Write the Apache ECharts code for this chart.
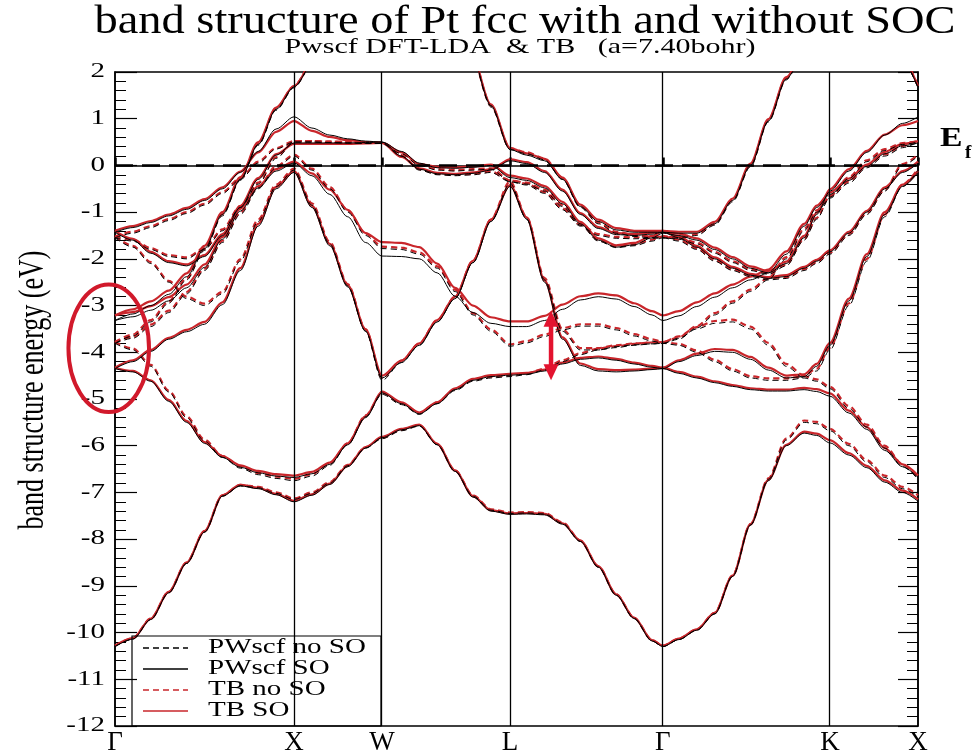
<!DOCTYPE html>
<html>
<head>
<meta charset="utf-8">
<script src="https://cdn.jsdelivr.net/npm/echarts@6/dist/echarts.min.js"></script>
<style>
  html, body { margin: 0; padding: 0; background: #fff; }
  #chart { width: 975px; height: 756px; }
</style>
</head>
<body>
<div id="chart"></div>
<script>
// k-path: high-symmetry points and their positions along the path
const kPath = [0, 1.0, 1.492, 2.207, 3.061, 3.994, 4.486];
const kLabels = ['Γ', 'X', 'W', 'L', 'Γ', 'K', 'X'];

// energy tick labels (eV)
const eTicks = [2, 1, 0, -1, -2, -3, -4, -5, -6, -7, -8, -9, -10, -11, -12];

// legend entries, in drawing order of the box
const legendNames = ['PWscf no SO', 'PWscf SO', 'TB no SO', 'TB SO'];

// sampling positions along the path (Γ-X | X-W | W-L | L-Γ | Γ-K | K-X)
const kGrid = [
  0, 0.1, 0.2, 0.3, 0.4, 0.5, 0.6, 0.7, 0.8, 0.9, 1.0,
  1.1, 1.2, 1.3, 1.4, 1.492,
  1.6, 1.7, 1.8, 1.9, 2.0, 2.1, 2.207,
  2.3, 2.4, 2.5, 2.6, 2.7, 2.8, 2.9, 3.0, 3.061,
  3.15, 3.25, 3.35, 3.45, 3.55, 3.65, 3.75, 3.85, 3.92, 3.994,
  4.1, 4.2, 4.3, 4.4, 4.486
];

// ---- PWscf, with spin-orbit (eV) ----
const pwSO = [
  [-10.30,-10.14,-9.72,-9.15,-8.52,-7.85,-7.08,-6.86,-6.92,-7.05,-7.20,
   -7.06,-6.83,-6.45,-6.05,-5.83,
   -5.66,-5.57,-5.98,-6.55,-7.10,-7.40,-7.47,
   -7.46,-7.48,-7.68,-8.05,-8.60,-9.20,-9.70,-10.18,-10.30,
   -10.15,-9.95,-9.60,-8.80,-7.70,-6.75,-6.00,-5.73,-5.78,-5.94,
   -6.20,-6.47,-6.78,-7.00,-7.19],
  [-4.35,-4.42,-4.62,-5.05,-5.50,-5.95,-6.25,-6.46,-6.58,-6.65,-6.68,
   -6.60,-6.40,-5.98,-5.40,-4.87,
   -5.10,-5.32,-5.10,-4.80,-4.60,-4.52,-4.49,
   -4.47,-4.40,-4.25,-4.15,-4.12,-4.17,-4.25,-4.32,-4.35,
   -4.45,-4.55,-4.65,-4.73,-4.80,-4.83,-4.83,-4.80,-4.84,-4.94,
   -5.30,-5.65,-6.10,-6.45,-6.68],
  [-4.35,-4.20,-3.98,-3.72,-3.56,-3.40,-2.98,-2.25,-1.30,-0.50,-0.15,
   -0.90,-1.72,-2.60,-3.55,-4.55,
   -4.22,-3.85,-3.35,-2.85,-2.08,-1.20,-0.45,
   -1.15,-2.50,-3.72,-4.28,-4.40,-4.42,-4.40,-4.37,-4.35,
   -4.20,-4.07,-3.98,-4.00,-4.15,-4.38,-4.55,-4.52,-4.30,-3.85,
   -2.90,-1.95,-1.05,-0.45,-0.15],
  [-3.32,-3.18,-3.00,-2.76,-2.38,-1.78,-1.05,-0.30,0.45,1.20,1.68,
   2.30,null,null,null,null,
   null,null,null,null,2.55,1.28,0.34,
   0.22,0.10,-0.30,-0.88,-1.20,-1.38,-1.43,-1.43,-1.43,
   -1.45,-1.45,-1.25,-0.75,0.00,0.95,1.85,2.60,null,null,
   null,null,null,2.40,1.68],
  [-1.43,-1.33,-1.22,-1.08,-0.94,-0.75,-0.50,-0.15,0.30,0.78,1.04,
   0.80,0.65,0.57,0.52,0.50,
   0.30,0.05,-0.05,-0.06,-0.04,0.00,-0.26,
   -0.32,-0.48,-0.82,-1.25,-1.60,-1.75,-1.70,-1.55,-1.45,
   -1.50,-1.60,-1.80,-2.00,-2.20,-2.30,-2.10,-1.55,-1.05,-0.55,
   -0.12,0.28,0.65,0.90,1.04],
  [-1.43,-1.60,-1.88,-2.08,-2.15,-1.95,-1.50,-0.90,-0.30,0.22,0.48,
   0.48,0.48,0.48,0.49,0.50,
   0.20,-0.08,-0.18,-0.20,-0.17,-0.10,0.10,
   0.04,-0.15,-0.55,-1.05,-1.35,-1.48,-1.50,-1.47,-1.43,
   -1.55,-1.75,-2.00,-2.20,-2.35,-2.42,-2.38,-2.20,-2.05,-1.85,
   -1.45,-1.00,-0.50,-0.15,0.05],
  [-3.32,-3.24,-3.10,-2.90,-2.62,-2.18,-1.58,-0.98,-0.48,-0.12,0.05,
   -0.22,-0.62,-1.10,-1.65,-1.94,
   -1.95,-2.00,-2.30,-2.80,-3.15,-3.38,-3.45,
   -3.45,-3.32,-3.08,-2.88,-2.81,-2.86,-3.02,-3.20,-3.32,
   -3.22,-3.02,-2.82,-2.62,-2.45,-2.30,-1.90,-1.30,-0.90,-0.62,
   -0.32,-0.02,0.25,0.42,0.48]
];

// ---- tight-binding, with spin-orbit (eV) ----
const tbSO = [
  [-10.28,-10.12,-9.70,-9.13,-8.50,-7.83,-7.06,-6.84,-6.90,-7.03,-7.18,
   -7.04,-6.81,-6.43,-6.03,-5.81,
   -5.64,-5.55,-5.96,-6.53,-7.08,-7.38,-7.45,
   -7.44,-7.46,-7.66,-8.03,-8.58,-9.18,-9.68,-10.16,-10.28,
   -10.13,-9.93,-9.58,-8.78,-7.68,-6.73,-5.98,-5.70,-5.74,-5.88,
   -6.16,-6.43,-6.74,-6.96,-7.15],
  [-4.33,-4.40,-4.60,-5.02,-5.47,-5.92,-6.22,-6.42,-6.54,-6.61,-6.64,
   -6.56,-6.36,-5.95,-5.37,-4.84,
   -5.07,-5.29,-5.07,-4.77,-4.57,-4.49,-4.46,
   -4.44,-4.37,-4.22,-4.12,-4.09,-4.14,-4.22,-4.29,-4.33,
   -4.42,-4.52,-4.62,-4.70,-4.77,-4.80,-4.80,-4.76,-4.79,-4.88,
   -5.25,-5.60,-6.05,-6.40,-6.64],
  [-4.33,-4.17,-3.95,-3.69,-3.52,-3.35,-2.93,-2.20,-1.25,-0.46,-0.12,
   -0.86,-1.68,-2.56,-3.51,-4.50,
   -4.18,-3.81,-3.31,-2.81,-2.04,-1.16,-0.42,
   -1.11,-2.46,-3.68,-4.24,-4.36,-4.38,-4.37,-4.35,-4.33,
   -4.17,-4.03,-3.93,-3.95,-4.10,-4.33,-4.50,-4.47,-4.25,-3.80,
   -2.85,-1.90,-1.00,-0.41,-0.12],
  [-3.21,-3.08,-2.91,-2.68,-2.31,-1.72,-1.00,-0.25,0.50,1.24,1.70,
   2.32,null,null,null,null,
   null,null,null,null,2.58,1.31,0.37,
   0.26,0.14,-0.26,-0.84,-1.16,-1.34,-1.40,-1.40,-1.40,
   -1.42,-1.42,-1.21,-0.71,0.04,0.99,1.89,2.64,null,null,
   null,null,null,2.44,1.70],
  [-1.40,-1.30,-1.19,-1.05,-0.91,-0.72,-0.47,-0.13,0.28,0.72,0.95,
   0.74,0.61,0.54,0.50,0.48,
   0.28,0.03,-0.03,-0.04,-0.02,0.02,-0.22,
   -0.28,-0.44,-0.78,-1.21,-1.56,-1.71,-1.66,-1.51,-1.41,
   -1.46,-1.56,-1.76,-1.96,-2.16,-2.26,-2.06,-1.51,-1.01,-0.51,
   -0.08,0.31,0.66,0.86,0.95],
  [-1.40,-1.57,-1.85,-2.05,-2.12,-1.92,-1.47,-0.87,-0.27,0.24,0.46,
   0.46,0.46,0.46,0.47,0.48,
   0.18,-0.06,-0.16,-0.18,-0.15,-0.08,0.13,
   0.07,-0.12,-0.52,-1.02,-1.32,-1.45,-1.47,-1.44,-1.40,
   -1.52,-1.72,-1.97,-2.17,-2.32,-2.39,-2.35,-2.17,-2.02,-1.82,
   -1.42,-0.97,-0.47,-0.12,0.08],
  [-3.21,-3.14,-3.01,-2.82,-2.55,-2.12,-1.53,-0.93,-0.44,-0.08,0.08,
   -0.17,-0.52,-0.95,-1.45,-1.64,
   -1.66,-1.75,-2.10,-2.62,-3.00,-3.25,-3.34,
   -3.34,-3.22,-2.98,-2.80,-2.74,-2.78,-2.95,-3.12,-3.21,
   -3.12,-2.93,-2.74,-2.55,-2.38,-2.23,-1.84,-1.25,-0.86,-0.58,
   -0.28,0.02,0.29,0.46,0.52]
];

// ---- PWscf, without spin-orbit (eV) ----
const pwNoSO = [
  [-10.30,-10.14,-9.72,-9.15,-8.52,-7.85,-7.08,-6.86,-6.90,-7.02,-7.15,
   -7.02,-6.80,-6.43,-6.05,-5.85,
   -5.68,-5.58,-5.98,-6.55,-7.08,-7.38,-7.45,
   -7.44,-7.46,-7.66,-8.05,-8.60,-9.20,-9.70,-10.18,-10.30,
   -10.15,-9.95,-9.60,-8.80,-7.70,-6.72,-5.88,-5.50,-5.53,-5.68,
   -6.00,-6.35,-6.68,-6.92,-7.10],
  [-3.81,-3.95,-4.30,-4.85,-5.40,-5.90,-6.25,-6.48,-6.62,-6.70,-6.75,
   -6.65,-6.42,-5.98,-5.38,-4.90,
   -5.12,-5.33,-5.10,-4.82,-4.62,-4.55,-4.52,
   -4.48,-4.38,-4.20,-4.05,-3.95,-3.90,-3.85,-3.82,-3.81,
   -3.85,-4.00,-4.20,-4.40,-4.55,-4.60,-4.60,-4.55,-4.62,-4.78,
   -5.20,-5.60,-6.05,-6.45,-6.72],
  [-1.55,-1.75,-2.10,-2.50,-2.85,-3.00,-2.75,-2.05,-1.20,-0.45,-0.10,
   -0.85,-1.68,-2.58,-3.55,-4.60,
   -4.22,-3.85,-3.35,-2.85,-2.08,-1.20,-0.38,
   -1.15,-2.45,-3.55,-3.95,-3.95,-3.88,-3.84,-3.82,-3.81,
   -3.70,-3.50,-3.38,-3.35,-3.50,-3.85,-4.30,-4.55,-4.40,-3.95,
   -3.00,-2.05,-1.10,-0.45,-0.10],
  [-3.81,-3.65,-3.35,-2.95,-2.45,-1.82,-1.08,-0.32,0.43,1.18,1.66,
   2.30,null,null,null,null,
   null,null,null,null,2.55,1.25,0.34,
   0.25,0.12,-0.30,-0.90,-1.25,-1.45,-1.52,-1.55,-1.55,
   -1.56,-1.50,-1.28,-0.78,-0.03,0.93,1.83,2.60,null,null,
   null,null,null,2.40,1.66],
  [-1.55,-1.45,-1.33,-1.18,-1.03,-0.85,-0.60,-0.30,0.05,0.35,0.50,
   0.50,0.49,0.48,0.47,0.47,
   0.25,0.00,-0.10,-0.12,-0.10,-0.08,-0.35,
   -0.40,-0.55,-0.88,-1.28,-1.62,-1.76,-1.72,-1.62,-1.55,
   -1.58,-1.68,-1.88,-2.08,-2.25,-2.33,-2.15,-1.60,-1.15,-0.68,
   -0.28,0.08,0.32,0.45,0.50],
  [-3.81,-3.70,-3.45,-3.15,-2.75,-2.25,-1.65,-1.05,-0.50,-0.05,0.20,
   -0.10,-0.50,-1.00,-1.50,-1.78,
   -1.80,-1.90,-2.20,-2.70,-3.20,-3.55,-3.87,
   -3.80,-3.66,-3.52,-3.44,-3.44,-3.52,-3.65,-3.76,-3.81,
   -3.72,-3.48,-3.20,-2.95,-2.70,-2.45,-2.00,-1.40,-1.00,-0.70,
   -0.38,-0.05,0.20,0.38,0.50],
  [-1.55,-1.62,-1.80,-1.95,-2.00,-1.80,-1.40,-0.90,-0.40,0.15,0.50,
   0.50,0.49,0.48,0.47,0.47,
   0.20,-0.10,-0.20,-0.22,-0.20,-0.15,-0.35,
   -0.42,-0.60,-0.95,-1.30,-1.50,-1.56,-1.57,-1.56,-1.55,
   -1.62,-1.80,-2.05,-2.25,-2.38,-2.45,-2.42,-2.25,-2.10,-1.90,
   -1.50,-1.05,-0.55,0.00,0.20]
];

// ---- tight-binding, without spin-orbit (eV) ----
const tbNoSO = [
  [-10.28,-10.12,-9.70,-9.13,-8.50,-7.83,-7.06,-6.84,-6.88,-7.00,-7.13,
   -7.00,-6.78,-6.41,-6.03,-5.83,
   -5.66,-5.56,-5.96,-6.53,-7.06,-7.36,-7.43,
   -7.42,-7.44,-7.64,-8.03,-8.58,-9.18,-9.68,-10.16,-10.28,
   -10.13,-9.93,-9.58,-8.78,-7.68,-6.70,-5.85,-5.46,-5.49,-5.64,
   -5.96,-6.31,-6.64,-6.88,-7.06],
  [-3.78,-3.92,-4.27,-4.82,-5.37,-5.87,-6.22,-6.44,-6.58,-6.66,-6.71,
   -6.61,-6.38,-5.95,-5.35,-4.87,
   -5.09,-5.30,-5.07,-4.79,-4.59,-4.52,-4.49,
   -4.45,-4.35,-4.17,-4.02,-3.92,-3.87,-3.82,-3.79,-3.78,
   -3.82,-3.96,-4.16,-4.36,-4.51,-4.56,-4.56,-4.51,-4.58,-4.74,
   -5.15,-5.55,-6.00,-6.40,-6.68],
  [-1.52,-1.72,-2.07,-2.47,-2.81,-2.96,-2.71,-2.01,-1.16,-0.41,-0.07,
   -0.81,-1.64,-2.54,-3.51,-4.55,
   -4.18,-3.81,-3.31,-2.81,-2.04,-1.16,-0.34,
   -1.11,-2.41,-3.51,-3.91,-3.91,-3.85,-3.81,-3.79,-3.78,
   -3.66,-3.46,-3.33,-3.30,-3.45,-3.80,-4.25,-4.50,-4.35,-3.90,
   -2.95,-2.00,-1.05,-0.41,-0.07],
  [-3.78,-3.62,-3.31,-2.91,-2.41,-1.78,-1.04,-0.28,0.47,1.22,1.70,
   2.34,null,null,null,null,
   null,null,null,null,2.58,1.28,0.37,
   0.28,0.15,-0.27,-0.87,-1.22,-1.42,-1.49,-1.52,-1.52,
   -1.53,-1.47,-1.25,-0.74,0.01,0.97,1.87,2.64,null,null,
   null,null,null,2.44,1.70],
  [-1.52,-1.42,-1.30,-1.15,-1.00,-0.82,-0.57,-0.27,0.08,0.37,0.52,
   0.52,0.51,0.50,0.49,0.49,
   0.27,0.02,-0.08,-0.10,-0.08,-0.06,-0.32,
   -0.37,-0.52,-0.85,-1.25,-1.59,-1.73,-1.69,-1.59,-1.52,
   -1.55,-1.65,-1.85,-2.05,-2.22,-2.30,-2.12,-1.57,-1.12,-0.65,
   -0.25,0.11,0.35,0.48,0.52],
  [-3.78,-3.67,-3.41,-3.11,-2.71,-2.21,-1.61,-1.01,-0.46,-0.02,0.23,
   -0.07,-0.46,-0.96,-1.46,-1.74,
   -1.76,-1.86,-2.16,-2.66,-3.16,-3.51,-3.83,
   -3.76,-3.62,-3.48,-3.40,-3.40,-3.48,-3.61,-3.72,-3.78,
   -3.68,-3.44,-3.16,-2.91,-2.66,-2.41,-1.96,-1.36,-0.96,-0.66,
   -0.34,-0.01,0.24,0.42,0.53],
  [-1.52,-1.59,-1.77,-1.92,-1.97,-1.77,-1.37,-0.87,-0.37,0.18,0.52,
   0.52,0.51,0.50,0.49,0.49,
   0.22,-0.08,-0.18,-0.20,-0.18,-0.13,-0.32,
   -0.39,-0.57,-0.92,-1.27,-1.47,-1.53,-1.54,-1.53,-1.52,
   -1.59,-1.77,-2.02,-2.22,-2.35,-2.42,-2.39,-2.22,-2.07,-1.87,
   -1.47,-1.02,-0.52,0.03,0.23]
];

// marked regions: the Γ-point ellipse and the L-Γ double arrow (data units)
const ringSpan = { kLo: -0.26, kHi: 0.19, eHi: -2.55, eLo: -5.28 };
const arrowSpan = { k: 2.436, eTop: -3.11, eBottom: -4.60 };

const SERIF = '"Liberation Serif", "Times New Roman", serif';
const RED = '#c9262b';
const DASH = [6, 4];

function labelFor(v) {
  let best = 0;
  kPath.forEach((k, i) => { if (Math.abs(k - v) < Math.abs(kPath[best] - v)) best = i; });
  return kLabels[best];
}

function bandSeries(name, bands, color, width, dashed, z) {
  return bands.map(b => ({
    name: name,
    type: 'line',
    data: kGrid.map((k, i) => [k, b[i]]),
    symbol: 'none',
    showSymbol: false,
    smooth: 0.3,
    smoothMonotone: 'x',
    connectNulls: false,
    clip: true,
    silent: true,
    z: z,
    lineStyle: { color: color, width: width, type: dashed ? DASH : 'solid' },
    itemStyle: { color: color }
  }));
}

const series = [].concat(
  bandSeries(legendNames[2], tbNoSO, RED, 2.2, true, 2),
  bandSeries(legendNames[3], tbSO, RED, 2.2, false, 2),
  bandSeries(legendNames[0], pwNoSO, '#000', 1.0, true, 3),
  bandSeries(legendNames[1], pwSO, '#000', 1.0, false, 3),
  [{
    name: 'guides',
    type: 'line',
    data: [],
    silent: true,
    z: 5,
    markLine: {
      silent: true,
      symbol: 'none',
      label: { show: false },
      animation: false,
      data: kPath.slice(1, -1).map(k => ({ xAxis: k, lineStyle: { color: '#000', width: 1.3, type: 'solid' } }))
        .concat([{ yAxis: 0, lineStyle: { color: '#000', width: 2.6, type: [18, 9] } }])
    }
  }]
);

const chart = echarts.init(document.getElementById('chart'), null, { renderer: 'canvas' });

const yAxisBase = {
  type: 'value',
  min: -12,
  max: 2,
  interval: 1,
  axisLine: { show: true, lineStyle: { color: '#000', width: 1.5 } },
  minorTick: { show: true, splitNumber: 5, length: 11, lineStyle: { color: '#000', width: 1 } },
  axisLabel: { show: false },
  splitLine: { show: false }
};

chart.setOption({
  animation: false,
  backgroundColor: '#fff',
  grid: { left: 115, right: 57, top: 72, bottom: 26, show: true, borderColor: '#000', borderWidth: 1.5 },
  xAxis: {
    type: 'value',
    min: 0,
    max: kPath[kPath.length - 1],
    axisLine: { show: true, lineStyle: { color: '#000', width: 1.5 } },
    axisTick: { show: true, inside: true, length: 8, customValues: kPath, lineStyle: { color: '#000', width: 2.5 } },
    axisLabel: {
      customValues: kPath,
      showMinLabel: true,
      showMaxLabel: true,
      formatter: v => labelFor(v),
      fontFamily: SERIF,
      fontSize: 27,
      color: '#000',
      margin: 3
    },
    splitLine: { show: false }
  },
  yAxis: [
    Object.assign({}, yAxisBase, {
      position: 'left',
      axisTick: { show: true, inside: true, length: 22, lineStyle: { color: '#000', width: 1.2 } }
    }),
    Object.assign({}, yAxisBase, {
      position: 'right',
      axisTick: { show: true, inside: true, length: 20, lineStyle: { color: '#000', width: 1.2 } }
    })
  ],
  series: series
});

// text and markers placed from axis coordinates
const toPx = v => chart.convertToPixel({ xAxisIndex: 0, yAxisIndex: 0 }, v);
const pA = toPx([ringSpan.kLo, ringSpan.eHi]);
const pB = toPx([ringSpan.kHi, ringSpan.eLo]);
const aT = toPx([arrowSpan.k, arrowSpan.eTop]);
const aB = toPx([arrowSpan.k, arrowSpan.eBottom]);
const fermi = toPx([kPath[kPath.length - 1], 0]);
const origin = toPx([0, 0]);
const ARROW = '#e3132f';
const ax = aT[0];

// energy tick labels, set in a wide serif face
const tickTexts = eTicks.map(v => {
  const p = toPx([0, v]);
  return {
    type: 'text', x: origin[0] - 10, y: p[1], scaleX: 1.45, z: 10,
    style: { text: String(v), font: '20px ' + SERIF, fill: '#000', align: 'right', verticalAlign: 'middle' }
  };
});

// legend box
const legendBox = { x: 132, y: 636, w: 249, h: 90, row: 21 };
const legendStyles = [
  { stroke: '#000', lineDash: DASH },
  { stroke: '#000', lineDash: null },
  { stroke: RED, lineDash: DASH },
  { stroke: RED, lineDash: null }
];
const legendItems = [{
  type: 'rect', z: 10,
  shape: { x: legendBox.x, y: legendBox.y, width: legendBox.w, height: legendBox.h },
  style: { fill: 'none', stroke: '#000', lineWidth: 1.2 }
}];
legendNames.forEach((name, i) => {
  const cy = legendBox.y + 12 + i * legendBox.row;
  legendItems.push({
    type: 'line', z: 10,
    shape: { x1: legendBox.x + 11, y1: cy, x2: legendBox.x + 56, y2: cy },
    style: { stroke: legendStyles[i].stroke, lineWidth: 1.3, lineDash: legendStyles[i].lineDash }
  });
  legendItems.push({
    type: 'text', z: 10, x: legendBox.x + 76, y: cy, scaleX: 1.45,
    style: { text: name, font: '20px ' + SERIF, fill: '#000', align: 'left', verticalAlign: 'middle' }
  });
});

chart.setOption({
  graphic: [
    { type: 'text', x: 525, y: 22, scaleX: 1.16, z: 10,
      style: { text: 'band structure of Pt fcc with and without SOC', font: '40px ' + SERIF, fill: '#000', align: 'center', verticalAlign: 'middle' } },
    { type: 'text', x: 520, y: 47, scaleX: 1.43, z: 10,
      style: { text: 'Pwscf DFT-LDA  & TB   (a=7.40bohr)', font: '21px ' + SERIF, fill: '#000', align: 'center', verticalAlign: 'middle' } },
    { type: 'text', x: 33, y: 390, rotation: Math.PI / 2, scaleY: 1.4, z: 10,
      style: { text: 'band structure energy (eV)', font: '26px ' + SERIF, fill: '#000', align: 'center', verticalAlign: 'middle' } },
    { type: 'text', x: fermi[0] + 22, y: fermi[1] - 26, scaleX: 1.25, z: 10,
      style: { text: 'E', font: 'bold 27px ' + SERIF, fill: '#000', align: 'left', verticalAlign: 'middle' } },
    { type: 'text', x: fermi[0] + 47, y: fermi[1] - 12, z: 10,
      style: { text: 'f', font: 'bold 19px ' + SERIF, fill: '#000', align: 'left', verticalAlign: 'middle' } },
    { type: 'ellipse', z: 20,
      shape: { cx: (pA[0] + pB[0]) / 2, cy: (pA[1] + pB[1]) / 2, rx: Math.abs(pB[0] - pA[0]) / 2, ry: Math.abs(pB[1] - pA[1]) / 2 },
      style: { fill: 'none', stroke: '#d1192b', lineWidth: 4 } },
    { type: 'line', z: 20,
      shape: { x1: ax, y1: aT[1] + 12, x2: ax, y2: aB[1] - 12 },
      style: { stroke: ARROW, lineWidth: 4.5 } },
    { type: 'polygon', z: 20,
      shape: { points: [[ax, aT[1]], [ax - 7.5, aT[1] + 16], [ax + 7.5, aT[1] + 16]] },
      style: { fill: ARROW } },
    { type: 'polygon', z: 20,
      shape: { points: [[ax, aB[1]], [ax - 7.5, aB[1] - 16], [ax + 7.5, aB[1] - 16]] },
      style: { fill: ARROW } }
  ].concat(tickTexts, legendItems)
});
</script>
</body>
</html>
